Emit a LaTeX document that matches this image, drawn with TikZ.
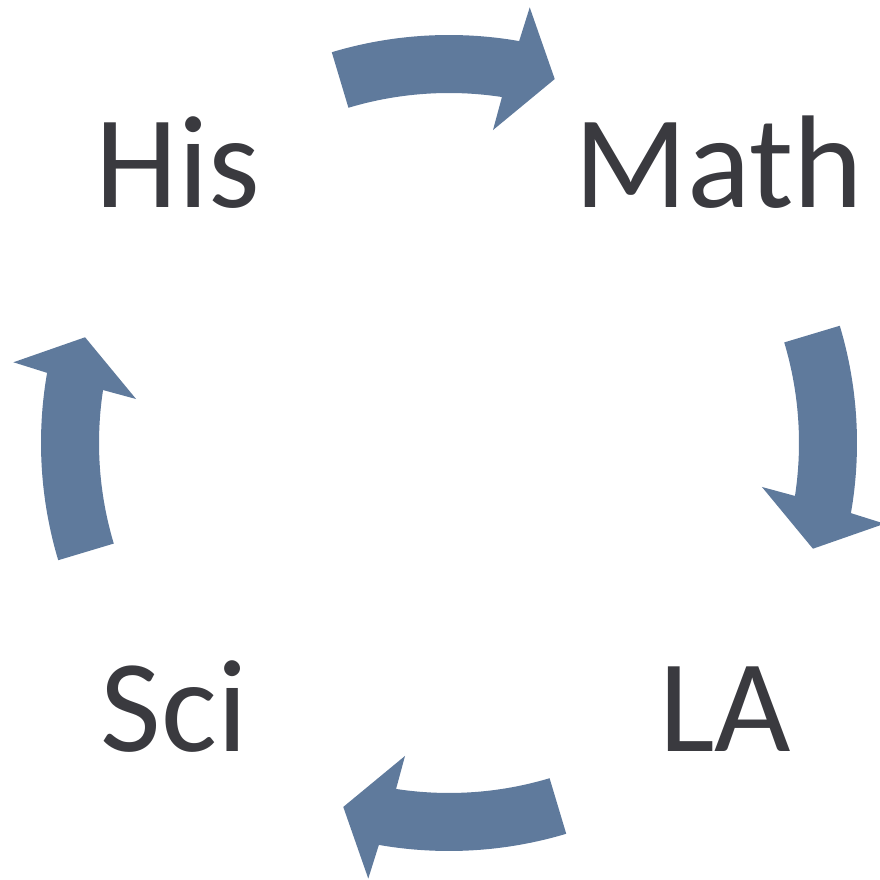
\documentclass[tikz,border=0pt]{standalone}
\usepackage{fontspec}
\setmainfont{Carlito}
\definecolor{arrowblue}{HTML}{5F7A9C}
\definecolor{labelgray}{HTML}{3A3A3F}
\tikzset{
  cyclelabel/.style={text=labelgray, font=\fontsize{132}{158}\selectfont, inner sep=0pt, anchor=base},
  pics/bentarrow/.style={code={
    \fill[arrowblue] (#1:408) arc[start angle=#1, end angle=#1-26.6, radius=408]
      -- (#1-27.2:443) -- (#1-32.9:379) -- (#1-24.7:316) -- (#1-25.4:350)
      arc[start angle=#1-25.4, end angle=#1, radius=350] -- cycle;
  }}
}
\begin{document}
\begin{tikzpicture}[x=1pt,y=1pt]
  \useasboundingbox (0,0) rectangle (879,880);
  \coordinate (c) at (449,437);
  \pic at (c) {bentarrow=106.7};
  \pic at (c) {bentarrow=16.7};
  \pic at (c) {bentarrow=-73.3};
  \pic at (c) {bentarrow=196.7};
  \node[cyclelabel] (his) at (178,672) {His};
  \node[cyclelabel] (math) at (719,672) {Math};
  \node[cyclelabel] (sci) at (174,128) {Sci};
  \node[cyclelabel] (la) at (725,128) {LA};
\end{tikzpicture}
\end{document}
